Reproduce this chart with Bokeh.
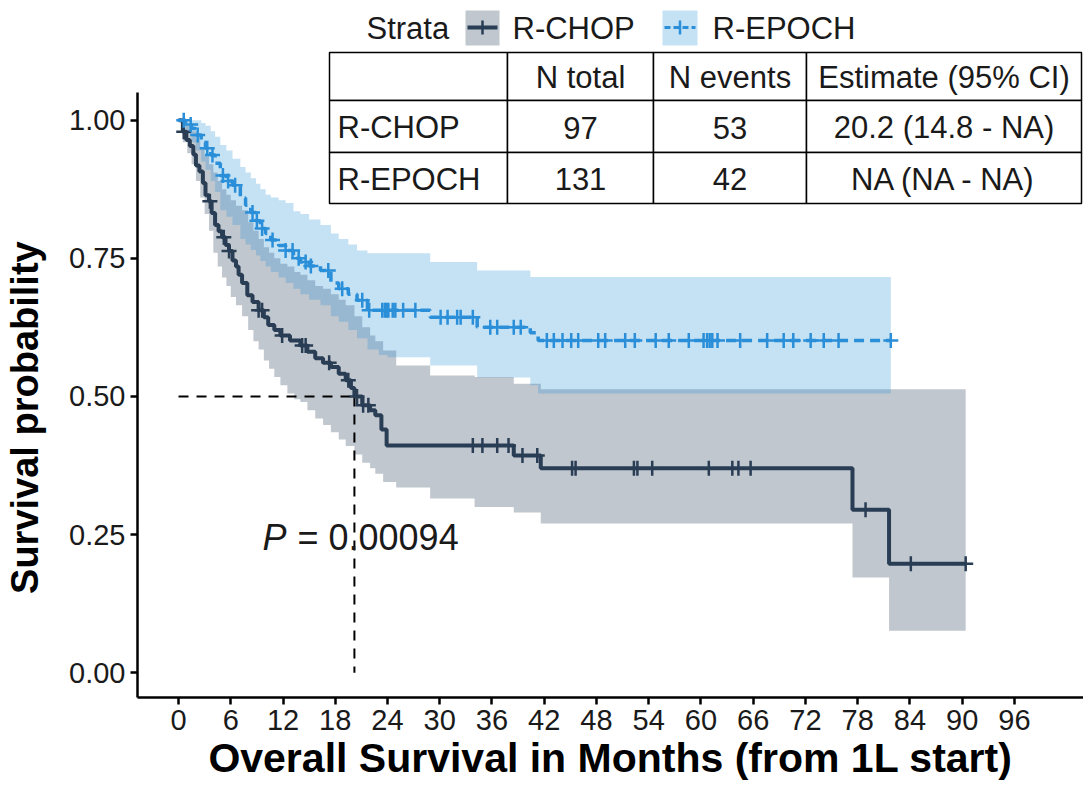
import numpy as np
from bokeh.plotting import figure
from bokeh.models import FixedTicker, Range1d, PrintfTickFormatter
from bokeh.core.properties import value
from bokeh.embed import file_html
from bokeh.resources import INLINE

# ---------------- data ----------------
# R-CHOP Kaplan-Meier estimate: step times (months) and survival after each step
chop_t = [0, 0.5, 0.9, 1.3, 1.7, 2.0, 2.4, 2.8, 3.1, 3.5, 3.8, 4.2, 4.6, 5.0, 5.4,
          5.8, 6.2, 6.6, 6.9, 7.3, 7.9, 8.5, 9.2, 9.8, 10.3, 11.0, 11.7, 12.8, 14.0,
          14.8, 15.7, 16.6, 17.5, 18.4, 19.2, 19.8, 20.2, 21.1, 22.0, 22.6, 23.3,
          23.9, 38.5, 41.6, 77.4, 81.6]
chop_s = [1.0, 0.979, 0.964, 0.953, 0.938, 0.918, 0.907, 0.886, 0.864, 0.853, 0.832,
          0.81, 0.799, 0.788, 0.774, 0.763, 0.746, 0.735, 0.72, 0.705, 0.683, 0.671,
          0.656, 0.643, 0.629, 0.62, 0.61, 0.601, 0.592, 0.581, 0.569, 0.561, 0.553,
          0.541, 0.529, 0.515, 0.5, 0.484, 0.475, 0.466, 0.44, 0.411, 0.393, 0.37,
          0.295, 0.197]
chop_end = 90.4
chop_censor = [0.6, 3.6, 5.2, 5.8, 9.2, 9.6, 11.9, 14.2, 14.6, 17.3, 19.5, 20.5,
               21.2, 21.8, 33.8, 34.9, 36.6, 37.9, 39.5, 41.2, 45.2, 45.6, 52.3,
               52.7, 54.4, 60.9, 63.6, 64.3, 65.7, 78.9, 84.1, 90.4]
# 95% confidence band for R-CHOP
chop_ci_t = [0, 0.5, 1.0, 1.5, 2.0, 2.5, 3.0, 3.5, 4.0, 4.5, 5.0, 5.5, 6.0, 6.6, 7.3,
             8.0, 8.6, 9.2, 9.8, 10.4, 11.0, 11.7, 12.5, 13.3, 14.0, 14.8, 15.7,
             16.6, 17.5, 18.4, 19.2, 20.2, 21.1, 22.0, 22.6, 23.5, 25.0, 28.9, 34.0,
             38.5, 41.6, 77.4, 81.6]
chop_ci_lo = [1.0, 0.96, 0.94, 0.92, 0.89, 0.86, 0.83, 0.80, 0.76, 0.735, 0.715, 0.70,
              0.68, 0.665, 0.645, 0.62, 0.60, 0.585, 0.565, 0.55, 0.535, 0.52, 0.505,
              0.495, 0.49, 0.475, 0.46, 0.448, 0.435, 0.422, 0.41, 0.395, 0.38, 0.37,
              0.36, 0.345, 0.335, 0.315, 0.30, 0.29, 0.27, 0.172, 0.076]
chop_ci_hi = [1.0, 1.0, 0.99, 0.98, 0.965, 0.95, 0.935, 0.92, 0.905, 0.89, 0.875,
              0.865, 0.855, 0.845, 0.837, 0.815, 0.80, 0.785, 0.77, 0.76, 0.75, 0.74,
              0.735, 0.725, 0.72, 0.71, 0.70, 0.695, 0.685, 0.675, 0.665, 0.645, 0.625,
              0.61, 0.60, 0.583, 0.556, 0.538, 0.535, 0.523, 0.513, 0.513, 0.513]
chop_ci_end = 90.4

# R-EPOCH Kaplan-Meier estimate
epoch_t = [0, 0.8, 1.5, 2.0, 2.6, 3.1, 3.7, 4.2, 4.8, 5.5, 6.2, 7.1, 7.7, 8.3, 8.9,
           9.4, 10.0, 10.6, 11.5, 12.3, 13.2, 14.0, 15.0, 16.3, 17.5, 18.4, 19.5,
           20.5, 21.7, 28.9, 34.3, 40.4, 41.3]
epoch_s = [1.0, 0.992, 0.985, 0.973, 0.96, 0.949, 0.937, 0.922, 0.9, 0.89, 0.882,
           0.859, 0.846, 0.833, 0.818, 0.804, 0.795, 0.783, 0.773, 0.764, 0.75, 0.743,
           0.736, 0.728, 0.705, 0.695, 0.685, 0.674, 0.656, 0.643, 0.625, 0.615, 0.601]
epoch_end = 81.8
epoch_censor = [0.6, 1.4, 2.2, 3.3, 3.9, 5.1, 5.7, 6.5, 8.5, 9.0, 9.6, 10.8, 12.3,
                13.1, 13.8, 14.6, 15.2, 17.2, 18.8, 21.1, 21.9, 23.4, 23.7, 23.9,
                24.1, 24.6, 24.9, 25.8, 27.2, 30.1, 30.9, 32.0, 32.4, 33.8, 35.8,
                36.6, 38.5, 39.3, 42.3, 43.1, 44.1, 45.1, 45.9, 48.2, 49.0, 51.3,
                52.4, 54.8, 56.3, 58.6, 60.3, 60.7, 61.0, 61.3, 61.9, 64.5, 67.6,
                69.5, 70.6, 72.6, 74.1, 75.8, 81.8]
# 95% confidence band for R-EPOCH
epoch_ci_t = [0, 0.8, 1.5, 2.0, 2.6, 3.1, 3.7, 4.2, 4.8, 5.5, 6.2, 7.1, 7.7, 8.3, 8.9,
              9.4, 10.0, 10.6, 11.5, 12.3, 13.2, 14.0, 15.0, 16.3, 17.5, 18.4, 19.5,
              20.5, 21.7, 23.0, 24.0, 28.9, 34.3, 40.4, 41.3]
epoch_ci_lo = [1.0, 0.975, 0.96, 0.945, 0.925, 0.91, 0.89, 0.87, 0.837, 0.825, 0.81,
               0.785, 0.775, 0.765, 0.755, 0.745, 0.735, 0.725, 0.715, 0.705, 0.695,
               0.685, 0.675, 0.665, 0.645, 0.635, 0.62, 0.605, 0.585, 0.575, 0.571,
               0.556, 0.534, 0.52, 0.505]
epoch_ci_hi = [1.0, 1.0, 1.0, 1.0, 0.995, 0.99, 0.98, 0.97, 0.955, 0.945, 0.93, 0.915,
               0.905, 0.895, 0.885, 0.875, 0.865, 0.86, 0.855, 0.85, 0.835, 0.83, 0.82,
               0.81, 0.795, 0.785, 0.775, 0.764, 0.759, 0.759, 0.759, 0.743, 0.728,
               0.716, 0.716]
epoch_ci_end = 81.8

# Summary table
strata = ["R-CHOP", "R-EPOCH"]
table_header = ["", "N total", "N events", "Estimate (95% CI)"]
n_total = [97, 131]
n_events = [53, 42]
estimates = ["20.2 (14.8 - NA)", "NA (NA - NA)"]
median_chop = 20.2
p_value = "0.00094"

x_ticks = list(range(0, 97, 6))
y_ticks = [0, 0.25, 0.5, 0.75, 1.0]

# ---------------- styling ----------------
DARK = "#293D55"
BLUE = "#2A8FD8"
TEXT = "#1a1a1a"
FONT = "Liberation Sans"

W, H = 1083, 792
FRAME_L, FRAME_B = 137, 697          # y axis at x=137, x axis at y=697
PANEL_TOP = 92                        # top end of the y axis line
X0, X1 = -4.71, 103.93
Y0, Y_AXIS_TOP = -0.045, 1.05
Y1 = Y0 + FRAME_B * (Y_AXIS_TOP - Y0) / (FRAME_B - PANEL_TOP)   # frame reaches the top


def tx(px):
    """horizontal canvas pixel -> months"""
    return X0 + (px - FRAME_L) * (X1 - X0) / (W - FRAME_L)


def sy(py):
    """vertical canvas pixel -> survival probability"""
    return Y0 + (FRAME_B - py) * (Y1 - Y0) / FRAME_B


def surv_at(t_steps, s_steps, times):
    idx = np.searchsorted(np.asarray(t_steps), np.asarray(times), side="right") - 1
    return np.asarray(s_steps)[idx]


p = figure(width=W, height=H, output_backend="svg", toolbar_location=None,
           x_range=Range1d(X0, X1), y_range=Range1d(Y0, Y1),
           min_border_left=FRAME_L, min_border_right=0,
           min_border_top=0, min_border_bottom=H - FRAME_B)
p.outline_line_color = None
p.grid.visible = False
p.background_fill_color = "white"
p.border_fill_color = "white"

# confidence bands
p.varea_step(x=chop_ci_t + [chop_ci_end], y1=chop_ci_lo + [chop_ci_lo[-1]],
             y2=chop_ci_hi + [chop_ci_hi[-1]], step_mode="after",
             fill_color=DARK, fill_alpha=0.29)
p.varea_step(x=epoch_ci_t + [epoch_ci_end], y1=epoch_ci_lo + [epoch_ci_lo[-1]],
             y2=epoch_ci_hi + [epoch_ci_hi[-1]], step_mode="after",
             fill_color=BLUE, fill_alpha=0.27)

# median survival guide
p.segment(x0=[0, median_chop], y0=[0.5, 0.5], x1=[median_chop, median_chop],
          y1=[0.5, 0], line_color="black", line_width=2, line_dash="10 8")

# survival curves
p.step(x=chop_t + [chop_end], y=chop_s + [chop_s[-1]], mode="after",
       line_color=DARK, line_width=4)
p.step(x=epoch_t + [epoch_end], y=epoch_s + [epoch_s[-1]], mode="after",
       line_color=BLUE, line_width=3.5, line_dash="10 6")

# censoring marks
p.scatter(x=chop_censor, y=surv_at(chop_t, chop_s, chop_censor), marker="cross",
          size=15, line_color=DARK, line_width=2.5)
p.scatter(x=epoch_censor, y=surv_at(epoch_t, epoch_s, epoch_censor), marker="cross",
          size=15, line_color=BLUE, line_width=2.5)

# axes
for ax in (p.xaxis[0], p.yaxis[0]):
    ax.axis_line_width = 2.5
    ax.axis_line_color = "black"
    ax.major_tick_line_width = 2.5
    ax.major_tick_line_color = "black"
    ax.major_tick_out = 7
    ax.major_tick_in = 0
    ax.minor_tick_line_color = None
    ax.major_label_text_font = FONT
    ax.major_label_text_font_size = "29px"
    ax.major_label_text_color = TEXT
    ax.major_label_standoff = 5
    ax.axis_label_text_font = FONT
    ax.axis_label_text_font_style = "bold"
    ax.axis_label_text_color = "black"

p.xaxis.ticker = FixedTicker(ticks=x_ticks)
p.xaxis.axis_label = "Overall Survival in Months (from 1L start)"
p.xaxis.axis_label_text_font_size = "41px"
p.xaxis.axis_label_standoff = 2
p.yaxis.ticker = FixedTicker(ticks=y_ticks)
p.yaxis.bounds = (Y0, Y_AXIS_TOP)
p.yaxis.formatter = PrintfTickFormatter(format="%.2f")
# the frame runs up to the canvas top; trailing no-break spaces keep the
# title centred on the drawn part of the axis
p.yaxis.axis_label = "Survival probability" + "\u00a0" * 13
p.yaxis.axis_label_text_font_size = "38px"
p.yaxis.axis_label_standoff = 20

# p-value
p.text(x=[tx(262)], y=[sy(537)], text=["P"], text_font=value(FONT),
       text_font_style="italic", text_font_size="36px", text_color=TEXT,
       text_baseline="middle", text_align="left")
p.text(x=[tx(262)], y=[sy(537)], x_offset=35, text=["= " + p_value],
       text_font=value(FONT), text_font_size="36px", text_color=TEXT,
       text_baseline="middle", text_align="left")

# summary table
col_edges = [329, 507, 653, 806, 1081]
row_edges = [52, 100, 152, 203]
q_left, q_right, q_top, q_bottom = [], [], [], []
for r in range(3):
    for c in range(4):
        q_left.append(tx(col_edges[c]))
        q_right.append(tx(col_edges[c + 1]))
        q_top.append(sy(row_edges[r]))
        q_bottom.append(sy(row_edges[r + 1]))
p.quad(left=q_left, right=q_right, top=q_top, bottom=q_bottom,
       fill_color="white", line_color="black", line_width=1.5)

rows = [table_header] + [[strata[i], str(n_total[i]), str(n_events[i]), estimates[i]]
                         for i in range(2)]
cell_x, cell_y, cell_text, cell_align = [], [], [], []
for r, row in enumerate(rows):
    yc = sy((row_edges[r] + row_edges[r + 1]) / 2 + 1)
    for c, txt in enumerate(row):
        if not txt:
            continue
        if c == 0:
            cell_x.append(tx(col_edges[0] + 8))
            cell_align.append("left")
        else:
            cell_x.append(tx((col_edges[c] + col_edges[c + 1]) / 2))
            cell_align.append("center")
        cell_y.append(yc)
        cell_text.append(txt)
p.text(x=cell_x, y=cell_y, text=cell_text, text_align=cell_align,
       text_font=value(FONT), text_font_size="31px", text_color=TEXT,
       text_baseline="middle")

# legend
p.text(x=[tx(366), tx(512), tx(712)], y=[sy(28)] * 3,
       text=["Strata"] + strata, text_font=value(FONT), text_font_size="31px",
       text_color=TEXT, text_baseline="middle", text_align="left")
legend_keys = [(465, 499, DARK, 0.29, "solid", 4),
               (662, 697, BLUE, 0.27, "6 3", 3)]
for left, right, col, alpha, dash, lw in legend_keys:
    p.quad(left=[tx(left)], right=[tx(right)], top=[sy(10)], bottom=[sy(45)],
           fill_color=col, fill_alpha=alpha, line_color=None)
    p.segment(x0=[tx(left + 2)], x1=[tx(right - 2)], y0=[sy(27)], y1=[sy(27)],
              line_color=col, line_width=lw, line_dash=dash)
    mid = (left + right) / 2
    p.segment(x0=[tx(mid)], x1=[tx(mid)], y0=[sy(20)], y1=[sy(34)],
              line_color=col, line_width=2.5)

open("out.html", "w").write(file_html(p, INLINE))
